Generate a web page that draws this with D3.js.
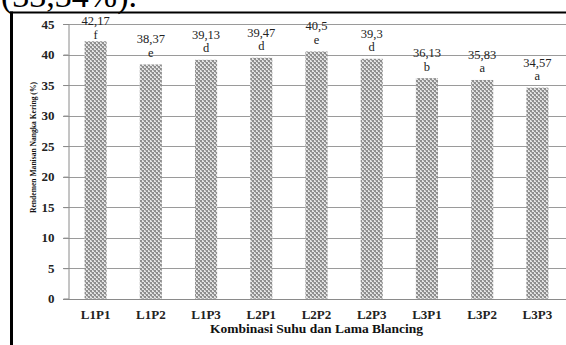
<!DOCTYPE html>
<html><head><meta charset="utf-8">
<script src="https://cdn.jsdelivr.net/npm/d3@7"></script>
<style>html,body{margin:0;padding:0;background:#fff;}svg{display:block;}</style>
</head><body>
<script>
const categories = ["L1P1","L1P2","L1P3","L2P1","L2P2","L2P3","L3P1","L3P2","L3P3"];
const values = [42.17, 38.37, 39.13, 39.47, 40.5, 39.3, 36.13, 35.83, 34.57];
const valueLabels = ["42,17","38,37","39,13","39,47","40,5","39,3","36,13","35,83","34,57"];
const letters = ["f","e","d","d","e","d","b","a","a"];
const yTicks = [0,5,10,15,20,25,30,35,40,45];

const W = 566, H = 345;
const svg = d3.select("body").append("svg").attr("width", W).attr("height", H);
const serif = "'Liberation Serif','Times New Roman',serif";

// pattern
const defs = svg.append("defs");
const pat = defs.append("pattern").attr("id","dots").attr("patternUnits","userSpaceOnUse")
  .attr("width",4).attr("height",4);
pat.append("rect").attr("width",4).attr("height",4).attr("fill","#e4e4e4");
[[0,0],[2,2]].forEach(([px,py])=>{
  pat.append("rect").attr("x",px).attr("y",py).attr("width",2).attr("height",2).attr("fill","#8e8e8e");
});
[[1,2],[3,0]].forEach(([px,py])=>{
  pat.append("rect").attr("x",px).attr("y",py).attr("width",1).attr("height",1).attr("fill","#b0b0b0");
});

// cut-off body text above the box
svg.append("text").attr("x",1).attr("y",7).attr("font-family",serif).attr("font-size",34)
  .attr("fill","#000").text("(33,34%).");

// frame
svg.append("line").attr("x1",10).attr("x2",W).attr("y1",12.5).attr("y2",12.5).attr("stroke","#000").attr("stroke-width",2);
svg.append("line").attr("x1",11.5).attr("x2",11.5).attr("y1",11.5).attr("y2",H).attr("stroke","#000").attr("stroke-width",3);

const x0 = 68, x1 = 565;
const x = d3.scaleBand().domain(categories).range([x0, x1]).paddingInner(0.6).paddingOuter(0.3);
const y = d3.scaleLinear().domain([0,45]).range([298.7, 24]);

// gridlines
const g = svg.append("g");
g.selectAll("line.grid").data(yTicks.filter(d=>d>0)).join("line")
  .attr("x1", x0-5).attr("x2", W).attr("y1", d=>Math.round(y(d))+0.5).attr("y2", d=>Math.round(y(d))+0.5)
  .attr("stroke","#9a9a9a").attr("stroke-width",1);

// y axis
const yAxis = d3.axisLeft(y).tickValues(yTicks).tickSize(5).tickPadding(9).tickFormat(d3.format("d"));
const ya = svg.append("g").attr("transform",`translate(${x0+0.5},0)`).call(yAxis);
ya.select(".domain").attr("stroke","#8a8a8a");
ya.selectAll(".tick line").attr("stroke","#8a8a8a");
ya.selectAll(".tick text").attr("font-family",serif).attr("font-size",13).attr("font-weight","bold").attr("fill","#222");

// bars
svg.append("g").selectAll("rect").data(values).join("rect")
  .attr("x",(d,i)=>x(categories[i])).attr("width",x.bandwidth())
  .attr("y",d=>y(d)).attr("height",d=>y(0)-y(d)).attr("fill","url(#dots)");

// x axis
const xAxis = d3.axisBottom(x).tickSize(0).tickPadding(10);
const xa = svg.append("g").attr("transform",`translate(0,${Math.round(y(0))+0.5})`).call(xAxis);
xa.select(".domain").attr("stroke","#8a8a8a").attr("d",`M${x0-5},0H${W}`);
xa.selectAll(".tick text").attr("font-family",serif).attr("font-size",13).attr("font-weight","bold").attr("fill","#222");

// value labels
const lab = svg.append("g").attr("font-family",serif).attr("font-size",12.5).attr("fill","#222").attr("text-anchor","middle");
values.forEach((v,i)=>{
  const cx = x(categories[i]) + x.bandwidth()/2;
  const top = y(v);
  const vb = Math.max(top-21, 25);
  lab.append("text").attr("x",cx).attr("y",vb).text(valueLabels[i]);
  lab.append("text").attr("x",cx).attr("y",vb+13.5).text(letters[i]);
});

// axis titles
svg.append("text").attr("x",(x0+x1)/2).attr("y",333).attr("text-anchor","middle")
  .attr("font-family",serif).attr("font-size",13.5).attr("font-weight","bold").attr("fill","#111")
  .text("Kombinasi Suhu dan Lama Blancing");
svg.append("text").attr("transform","translate(36,147.5) rotate(-90)").attr("text-anchor","middle")
  .attr("font-family",serif).attr("font-size",9).attr("font-weight","bold").attr("fill","#111")
  .attr("textLength",131).attr("lengthAdjust","spacingAndGlyphs")
  .text("Rendemen Manisan Nangka Kering (%)");
</script>
</body></html>
